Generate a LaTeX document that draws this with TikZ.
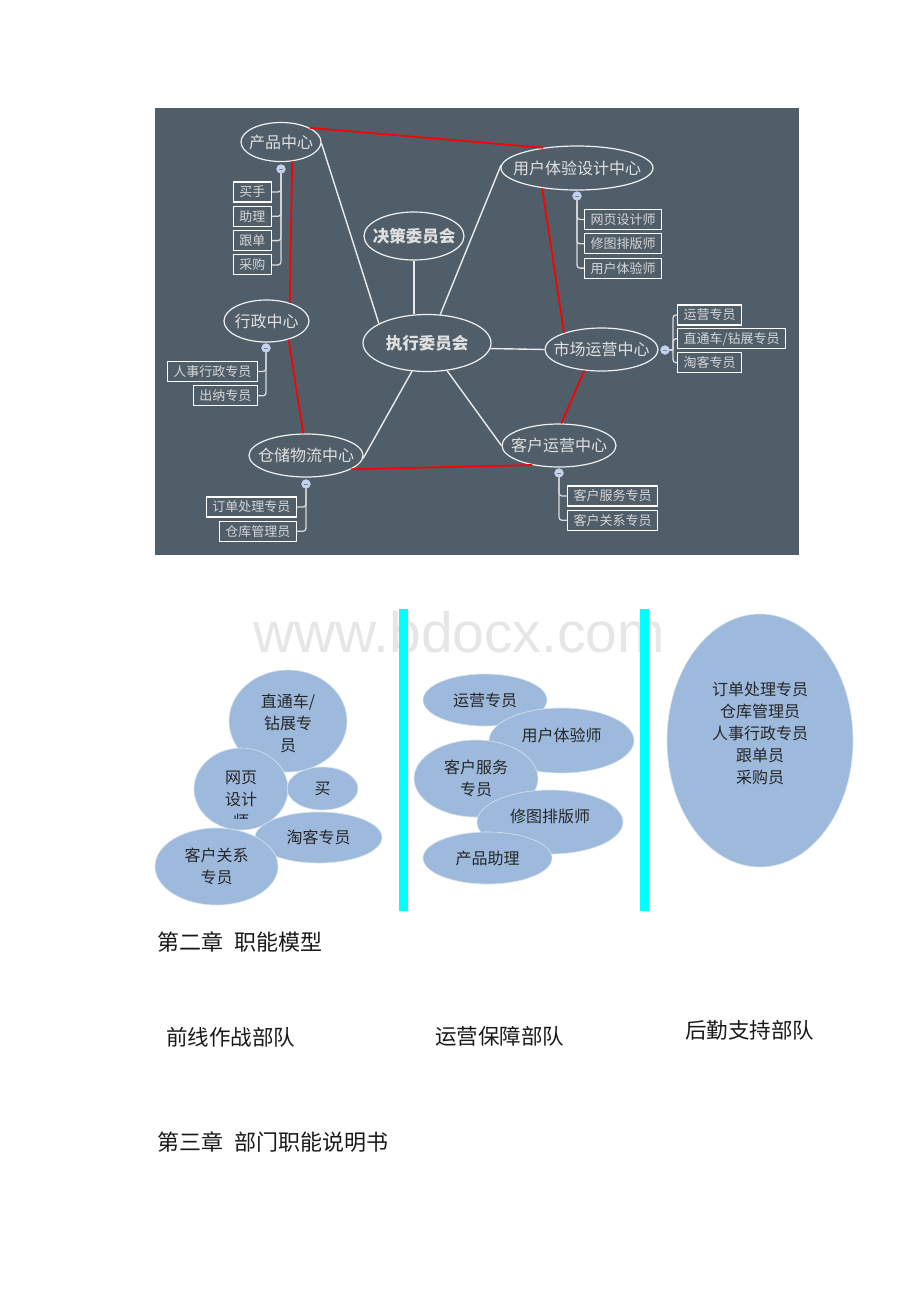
\documentclass[tikz,border=0pt]{standalone}
\usepackage{fontspec}
\setmainfont{Noto Sans CJK SC}
\newfontfamily\wmfont{Liberation Sans}
\usetikzlibrary{positioning,shapes.geometric}

\definecolor{slate}{RGB}{80,94,106}
\definecolor{postgray}{RGB}{214,214,214}
\definecolor{knobblue}{RGB}{196,212,240}
\definecolor{bubblue}{RGB}{157,186,221}
\definecolor{wmgray}{RGB}{230,230,230}
\definecolor{barcyan}{RGB}{0,255,255}
\newcommand{\zbox}[1]{\makebox[0pt]{#1}}

\begin{document}
\begin{tikzpicture}[x=1pt, y=-1pt, node distance=3.2pt,
    dept/.style={ellipse, draw=white!94!black, line width=1.2pt, inner sep=0pt, text=white!88!black, font=\fontsize{16}{16}\selectfont},
    board/.style={dept, font=\fontsize{16.5}{16.5}\selectfont\bfseries},
    post/.style={rectangle, draw=white, line width=1.1pt, fill=slate, text=postgray, minimum height=20pt, inner xsep=6pt, inner ysep=0pt, font=\fontsize{13}{13}\selectfont},
    knob/.style={circle, fill=knobblue, draw=knobblue!75!gray, line width=.4pt, minimum size=9pt, inner sep=0pt, path picture={\draw[gray, line width=.7pt] ([xshift=-2pt]path picture bounding box.center) -- ([xshift=2pt]path picture bounding box.center);}},
    link/.style={draw=white!92!black, line width=1.4pt},
    redlink/.style={draw=red, line width=1.8pt},
    branch/.style={draw=white!85!black, line width=1.3pt, rounded corners=3pt},
    bubble/.style={ellipse, fill=bubblue, draw=white!60!bubblue, line width=.6pt, inner sep=0pt},
    btxt/.style={text=black!85, align=center, inner sep=0pt, font=\fontsize{16}{22}\selectfont},
    heading/.style={anchor=west, inner sep=0pt, text=black!90, font=\fontsize{22}{22}\selectfont}]

\useasboundingbox (0,0) rectangle (920,1302);

% Mind map panel
\fill[slate] (155,108) rectangle (799,555);

\node[dept, minimum width=80pt, minimum height=39pt] (cp) at (281,142) {\zbox{产品中心}};
\node[dept, minimum width=152pt, minimum height=44pt] (ux) at (577,168) {\zbox{用户体验设计中心}};
\node[board, minimum width=100pt, minimum height=48pt] (jc) at (414,236) {\zbox{决策委员会}};
\node[board, minimum width=128pt, minimum height=57pt] (zx) at (427,343) {\zbox{执行委员会}};
\node[dept, minimum width=85pt, minimum height=42pt] (xz) at (266.5,321) {\zbox{行政中心}};
\node[dept, minimum width=113pt, minimum height=43pt] (sc) at (601.5,349.5) {\zbox{市场运营中心}};
\node[dept, minimum width=114pt, minimum height=43pt] (kh) at (559,445.5) {\zbox{客户运营中心}};
\node[dept, minimum width=114pt, minimum height=43pt] (cc) at (306,455.5) {\zbox{仓储物流中心}};

% Links to the executive board
\draw[link] (jc.south) -- (jc.south |- zx.north);
\draw[link] (cp.-2) -- (zx.158);
\draw[link] (ux.178) -- (zx.65);
\draw[link] (zx.-5) -- (sc.west);
\draw[link] (zx.-54) -- (kh.west);
\draw[link] (zx.-118) -- (cc.-3);

% Red ring
\draw[redlink] (cp.26) -- (ux.149);
\draw[redlink] (cp.-60) -- (xz.38);
\draw[redlink] (xz.-40) -- (cc.97);
\draw[redlink] (cc.-17) -- (kh.216);
\draw[redlink] (ux.210) -- (sc.156);
\draw[redlink] (sc.231) -- (kh.84);

% Posts
\node[post, anchor=east] (p11) at (272,192) {买手};
\node[post, below=of p11.south east, anchor=north east] (p12) {助理};
\node[post, below=of p12.south east, anchor=north east] (p13) {跟单};
\node[post, below=of p13.south east, anchor=north east] (p14) {采购};

\node[post, anchor=west] (p21) at (584,219.5) {网页设计师};
\node[post, below=of p21.south west, anchor=north west] (p22) {修图排版师};
\node[post, below=of p22.south west, anchor=north west] (p23) {用户体验师};

\node[post, anchor=west] (p31) at (677,315) {运营专员};
\node[post, below=2.7pt of p31.south west, anchor=north west] (p32) {直通车/钻展专员};
\node[post, below=2.7pt of p32.south west, anchor=north west] (p33) {淘客专员};

\node[post, anchor=east] (p41) at (258,371.5) {人事行政专员};
\node[post, below=of p41.south east, anchor=north east] (p42) {出纳专员};

\node[post, anchor=east] (p51) at (297,507) {订单处理专员};
\node[post, below=of p51.south east, anchor=north east] (p52) {仓库管理员};

\node[post, anchor=west] (p61) at (567,496) {客户服务专员};
\node[post, below=of p61.south west, anchor=north west] (p62) {客户关系专员};

% Branches
\coordinate (j3) at (673,350);
\draw[branch] (281,169) |- (p11.east);
\draw[branch] (281,169) |- (p12.east);
\draw[branch] (281,169) |- (p13.east);
\draw[branch] (281,169) |- (p14.east);
\draw[branch] (577,196) |- (p21.west);
\draw[branch] (577,196) |- (p22.west);
\draw[branch] (577,196) |- (p23.west);
\draw[branch] (665,350) -- (j3);
\draw[branch] (j3) |- (p31.west);
\draw[branch] (j3) |- (p32.west);
\draw[branch] (j3) |- (p33.west);
\draw[branch] (266,348) |- (p41.east);
\draw[branch] (266,348) |- (p42.east);
\draw[branch] (306,484) |- (p51.east);
\draw[branch] (306,484) |- (p52.east);
\draw[branch] (559,473) |- (p61.west);
\draw[branch] (559,473) |- (p62.west);

\node[knob] (k1) at (281,169) {};
\node[knob] (k2) at (577,196) {};
\node[knob] (k3) at (665,350) {};
\node[knob] (k4) at (266,348) {};
\node[knob] (k5) at (306,484) {};
\node[knob] (k6) at (559,473) {};

% Watermark
\node[anchor=base west, inner sep=0pt, text=wmgray, font=\wmfont\fontsize{57}{57}\selectfont] (wm) at (253,652) {www.bdocx.com};

% Front-line bubbles
\node[bubble, minimum width=118pt, minimum height=102pt] (zt) at (288,721) {};
\node[btxt, yshift=-2pt] at (zt) {直通车/\\钻展专\\员};
\node[bubble, minimum width=94pt, minimum height=82pt] (wy) at (241,789) {};
\begin{scope}
  \clip (190,750) rectangle (300,818);
  \node[btxt, yshift=-11pt] at (wy) {网页\\设计\\师};
\end{scope}
\node[bubble, minimum width=71pt, minimum height=43pt] (mai) at (322.5,788.5) {};
\node[btxt] at (mai) {买};
\node[bubble, minimum width=127pt, minimum height=51pt] (tk) at (318.5,837.5) {};
\node[btxt] at (tk) {淘客专员};
\node[bubble, minimum width=123pt, minimum height=77pt] (kg) at (216.5,866.5) {};
\node[btxt] at (kg) {客户关系\\专员};

% Support bubbles
\node[bubble, minimum width=124pt, minimum height=52pt] (yy) at (485,700) {};
\node[btxt] at (yy) {运营专员};
\node[bubble, minimum width=145pt, minimum height=65pt] (ty) at (561.5,740.5) {};
\node[btxt, yshift=5pt] at (ty) {用户体验师};
\node[bubble, minimum width=124pt, minimum height=77pt] (kf) at (476,778.5) {};
\node[btxt] at (kf) {客户服务\\专员};
\node[bubble, minimum width=146pt, minimum height=64pt] (xt) at (550,822) {};
\node[btxt, yshift=6pt] at (xt) {修图排版师};
\node[bubble, minimum width=129pt, minimum height=52pt] (cz) at (487.5,858) {};
\node[btxt] at (cz) {产品助理};

% Logistics bubble
\node[bubble, minimum width=186pt, minimum height=253pt] (hq) at (760,740.5) {};
\node[btxt, yshift=7.5pt] at (hq) {订单处理专员\\仓库管理员\\人事行政专员\\跟单员\\采购员};

% Dividers
\fill[barcyan] (399,609) rectangle (408,911);
\fill[barcyan] (640,609) rectangle (649,911);

% Headings
\node[heading] (h2) at (157,942) {第二章\enspace 职能模型};
\node[heading, font=\fontsize{21.5}{21.5}\selectfont] (f1) at (166,1037) {前线作战部队};
\node[heading, font=\fontsize{21.5}{21.5}\selectfont] (f2) at (435,1036) {运营保障部队};
\node[heading, font=\fontsize{21.5}{21.5}\selectfont] (f3) at (685,1030) {后勤支持部队};
\node[heading] (h3) at (157,1142.5) {第三章\enspace 部门职能说明书};

\end{tikzpicture}
\end{document}
